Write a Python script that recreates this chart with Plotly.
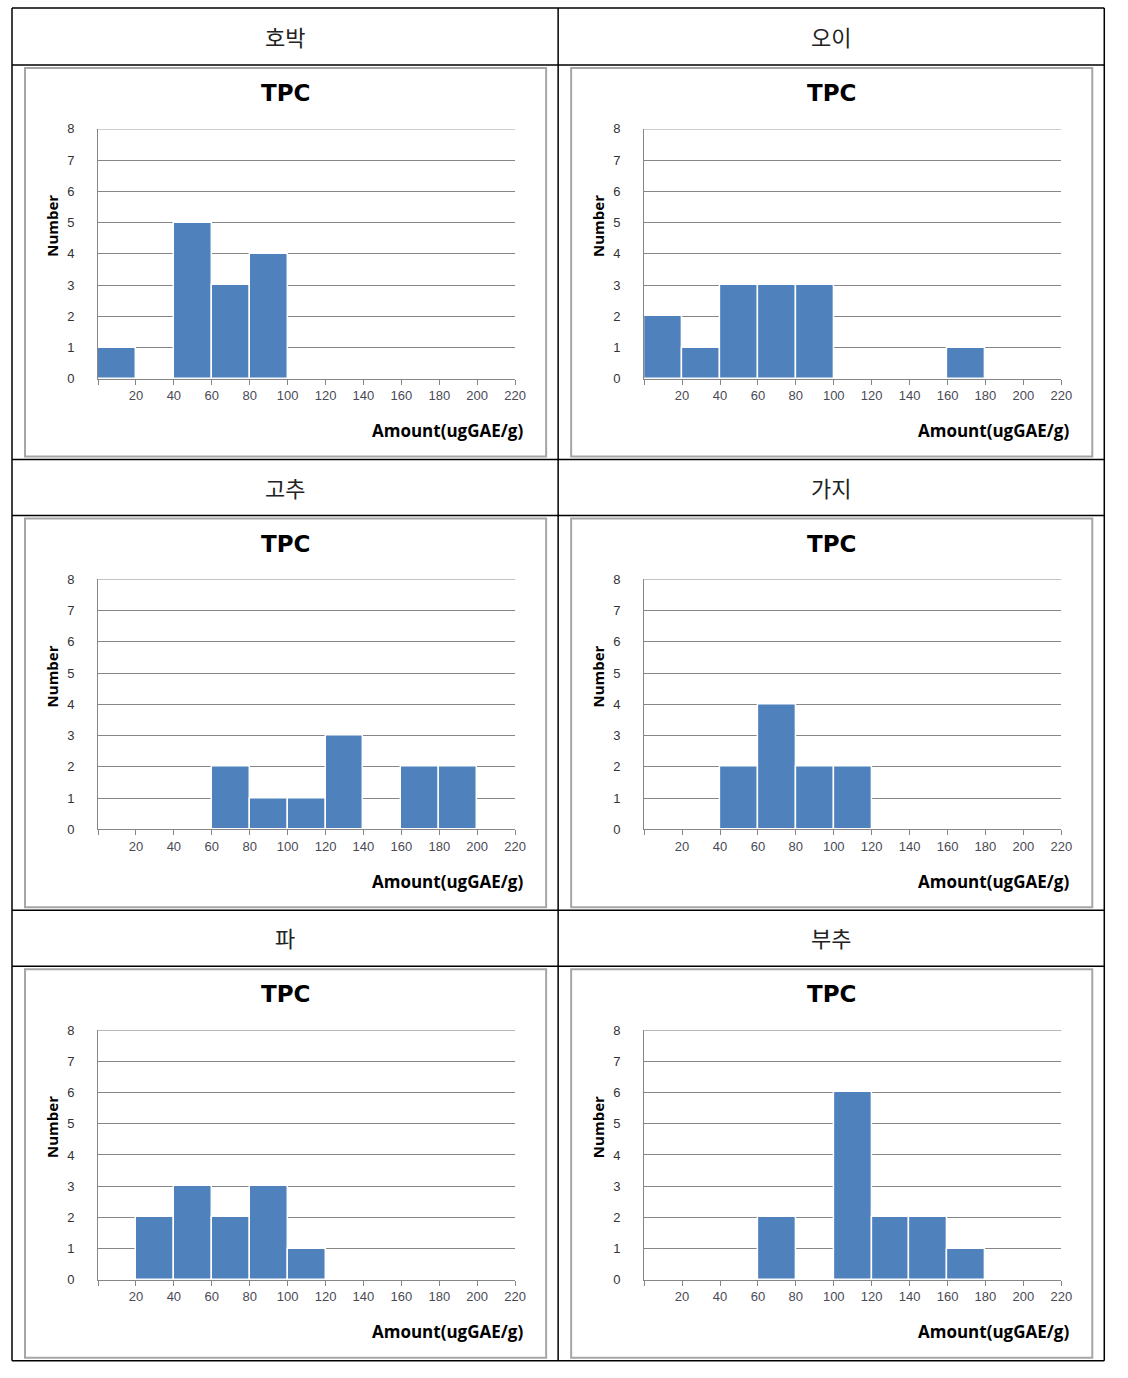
import numpy as np
import plotly.graph_objects as go

# ---------------- data ----------------
names = ["호박", "오이", "고추", "가지", "파", "부추"]
bin_edges = [0, 20, 40, 60, 80, 100, 120, 140, 160, 180, 200, 220]
tick_labels = ["", "20", "40", "60", "80", "100", "120", "140", "160", "180", "200", "220"]
counts_hobak = [1, 0, 5, 3, 4, 0, 0, 0, 0, 0, 0]
counts_oi = [2, 1, 3, 3, 3, 0, 0, 0, 1, 0, 0]
counts_gochu = [0, 0, 0, 2, 1, 1, 3, 0, 2, 2, 0]
counts_gaji = [0, 0, 2, 4, 2, 2, 0, 0, 0, 0, 0]
counts_pa = [0, 2, 3, 2, 3, 1, 0, 0, 0, 0, 0]
counts_buchu = [0, 0, 0, 2, 0, 6, 2, 2, 1, 0, 0]
all_counts = [counts_hobak, counts_oi, counts_gochu, counts_gaji, counts_pa, counts_buchu]
y_ticks = [0, 1, 2, 3, 4, 5, 6, 7, 8]

W, H = 1128, 1378
BAR = "#4F81BD"
GRID = "#868686"

# the rendered page comes out slightly shrunk and shifted; compensate
S = 0.99
OY = 7.0

def px(x):
    return (x / S) / W

def py(y):
    return 1 - ((y - OY) / S) / H

edges = np.array(bin_edges, dtype=float)
centers = (edges[:-1] + edges[1:]) / 2
widths = np.diff(edges)

fig = go.Figure()
shapes = []
annotations = []

col_off = [0, 546]
row_off = [0, 451, 902]

for i, (name, counts) in enumerate(zip(names, all_counts)):
    r, c = divmod(i, 2)
    dx, dy = col_off[c], row_off[r]
    ax = "" if i == 0 else str(i + 1)
    fig.add_trace(go.Bar(
        x=centers, y=counts, width=widths,
        marker=dict(color=BAR, line=dict(color="white", width=1.5)),
        xaxis="x" + ax, yaxis="y" + ax, showlegend=False,
        hoverinfo="x+y",
    ))
    x0, x1 = 98 + dx, 515 + dx
    ytop, ybot = 129 + dy, 379 + dy
    fig.update_layout(**{
        "xaxis" + ax: dict(
            domain=[px(x0), px(x1)], anchor="y" + ax,
            range=[bin_edges[0], bin_edges[-1]],
            tickmode="array", tickvals=bin_edges, ticktext=tick_labels,
            ticks="outside", ticklen=5, tickcolor=GRID, tickwidth=1,
            showline=True, linecolor=GRID, linewidth=1,
            showgrid=False, zeroline=False,
            tickfont=dict(family="Liberation Sans, Arial", size=13, color="#4a4a55"),
            fixedrange=True,
        ),
        "yaxis" + ax: dict(
            domain=[py(ybot), py(ytop)], anchor="x" + ax,
            range=[y_ticks[0], y_ticks[-1]],
            tickmode="array", tickvals=y_ticks,
            showgrid=True, gridcolor=GRID, gridwidth=1,
            showline=True, linecolor=GRID, linewidth=1,
            zeroline=False, ticks="",
            ticklabelstandoff=20,
            tickfont=dict(family="Liberation Sans, Arial", size=13, color="#333333"),
            fixedrange=True,
        ),
    })
    # top gridline (at max y tick)
    shapes.append(dict(type="line", xref=("x" + ax) + " domain", yref="y" + ax,
                       x0=0, x1=1, y0=y_ticks[-1], y1=y_ticks[-1],
                       line=dict(color=GRID, width=1)))
    # chart box
    shapes.append(dict(type="rect", xref="paper", yref="paper",
                       x0=px(25 + dx), x1=px(546 + dx), y0=py(457 + dy), y1=py(68 + dy),
                       line=dict(color="#a6a6a6", width=2), fillcolor="rgba(0,0,0,0)", layer="below"))
    # header text
    annotations.append(dict(text=name, xref="paper", yref="paper",
                            x=px(285 + dx), y=py(36 + dy), xanchor="center", yanchor="middle",
                            showarrow=False,
                            font=dict(family="Noto Sans CJK KR", size=22, color="#222222")))
    # chart title
    annotations.append(dict(text="<b>TPC</b>", xref="paper", yref="paper",
                            x=px(285.5 + dx), y=py(93 + dy), xanchor="center", yanchor="middle",
                            showarrow=False,
                            font=dict(family="DejaVu Sans", size=23, color="#000000")))
    # y axis title
    annotations.append(dict(text="<b>Number</b>", xref="paper", yref="paper",
                            x=px(52 + dx), y=py(226 + dy), xanchor="center", yanchor="middle",
                            textangle=-90, showarrow=False,
                            font=dict(family="Open Sans, Noto Sans", size=15, color="#000000")))
    # x axis title
    annotations.append(dict(text="<b>Amount(ugGAE/g)</b>", xref="paper", yref="paper",
                            x=px(525 + dx), y=py(431 + dy), xanchor="right", yanchor="middle",
                            showarrow=False,
                            font=dict(family="Open Sans, Noto Sans", size=17, color="#000000")))

# table lines
line_style = dict(color="#000000", width=1.5)
for yy in [8, 65, 460, 516, 911, 967, 1362]:
    shapes.append(dict(type="line", xref="paper", yref="paper",
                       x0=px(12), x1=px(1104), y0=py(yy), y1=py(yy), line=line_style))
for xx in [12, 558, 1104]:
    shapes.append(dict(type="line", xref="paper", yref="paper",
                       x0=px(xx), x1=px(xx), y0=py(8), y1=py(1362), line=line_style))

fig.update_layout(
    width=W, height=H,
    margin=dict(l=0, r=0, t=0, b=0),
    paper_bgcolor="white", plot_bgcolor="white",
    bargap=0,
    shapes=shapes, annotations=annotations,
)

fig.write_html(
    "out.html",
    config={"displayModeBar": False},
    post_script=(
        "document.documentElement.style.margin='0';"
        "document.documentElement.style.overflow='hidden';"
        "document.body.style.margin='0';document.body.style.padding='0';"
        "document.body.style.overflow='hidden';"
        "var g=document.getElementById('{plot_id}');"
        "g.style.position='fixed';g.style.top='0px';g.style.left='0px';"
    ),
)
